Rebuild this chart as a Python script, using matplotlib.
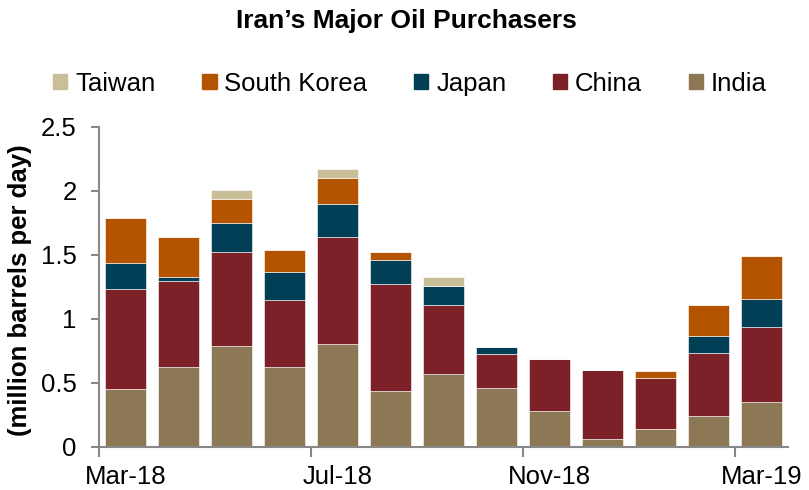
import numpy as np
import matplotlib.pyplot as plt
from matplotlib.patches import Patch

plt.rcParams['font.family'] = ['Liberation Sans', 'DejaVu Sans']

# Monthly purchases, million barrels per day (Mar-18 .. Mar-19)
months = ['Mar-18', 'Apr-18', 'May-18', 'Jun-18', 'Jul-18', 'Aug-18', 'Sep-18',
          'Oct-18', 'Nov-18', 'Dec-18', 'Jan-19', 'Feb-19', 'Mar-19']
india = [0.45, 0.625, 0.79, 0.625, 0.80, 0.44, 0.57, 0.46, 0.28, 0.06, 0.14, 0.245, 0.35]
china = [0.78, 0.67, 0.73, 0.52, 0.84, 0.83, 0.54, 0.265, 0.41, 0.54, 0.40, 0.49, 0.59]
japan = [0.21, 0.035, 0.23, 0.22, 0.26, 0.19, 0.15, 0.055, 0.0, 0.0, 0.0, 0.13, 0.215]
south_korea = [0.35, 0.31, 0.19, 0.175, 0.20, 0.06, 0.0, 0.0, 0.0, 0.0, 0.055, 0.245, 0.34]
taiwan = [0.0, 0.0, 0.07, 0.0, 0.07, 0.0, 0.07, 0.0, 0.0, 0.0, 0.0, 0.0, 0.0]

labeled = ['Mar-18', 'Jul-18', 'Nov-18', 'Mar-19']

series = [('India', india, '#8C7855'),
          ('China', china, '#7D2129'),
          ('Japan', japan, '#003F55'),
          ('South Korea', south_korea, '#B55400'),
          ('Taiwan', taiwan, '#C8BF98')]

fs = 18.5

fig = plt.figure(figsize=(8.09, 4.9), dpi=100)
ax = fig.add_axes([0.1224, 0.088, 0.8516, 0.653])

x = np.arange(len(months))
bottom = np.zeros(len(months))
for name, vals, col in series:
    vals = np.array(vals)
    ax.bar(x, vals, 0.76, bottom=bottom, color=col, edgecolor='white', linewidth=0.4)
    bottom += vals

ax.set_xlim(-0.5, len(months) - 0.5)
ax.set_ylim(0, 2.5)
ax.set_yticks([0, 0.5, 1, 1.5, 2, 2.5])
ax.set_yticklabels(['0', '0.5', '1', '1.5', '2', '2.5'], fontsize=fs)

# tick marks between categories, labels centred on bars
ax.set_xticks([months.index(m) - 0.5 for m in labeled])
ax.set_xticklabels([])
ax.set_xticks([months.index(m) for m in labeled], minor=True)
ax.set_xticklabels(labeled, minor=True, fontsize=fs)
ax.tick_params(axis='x', which='major', length=7, width=1.5, color='#888888')
ax.tick_params(axis='x', which='minor', length=0, pad=13)
ax.tick_params(axis='y', length=6, width=1.5, color='#888888', pad=10)

for s in ['top', 'right']:
    ax.spines[s].set_visible(False)
for s in ['left', 'bottom']:
    ax.spines[s].set_color('#888888')
    ax.spines[s].set_linewidth(1.5)

fig.text(20 / 809, 0.407, '(million barrels per day)', rotation=90, ha='center',
         va='center', fontsize=fs, fontweight='bold')

handles = [Patch(color=col, label=name) for name, vals, col in reversed(series)]
fig.legend(handles=handles, loc='center', bbox_to_anchor=(0.507, 0.829), ncol=5,
           frameon=False, fontsize=fs, handlelength=0.55, handleheight=0.55,
           handletextpad=0.3, columnspacing=1.83, borderaxespad=0, borderpad=0)

fig.text(0.503, 0.958, 'Iran\u2019s Major Oil Purchasers', ha='center', va='center',
         fontsize=19, fontweight='bold')

fig.savefig('out.png', dpi=100)
